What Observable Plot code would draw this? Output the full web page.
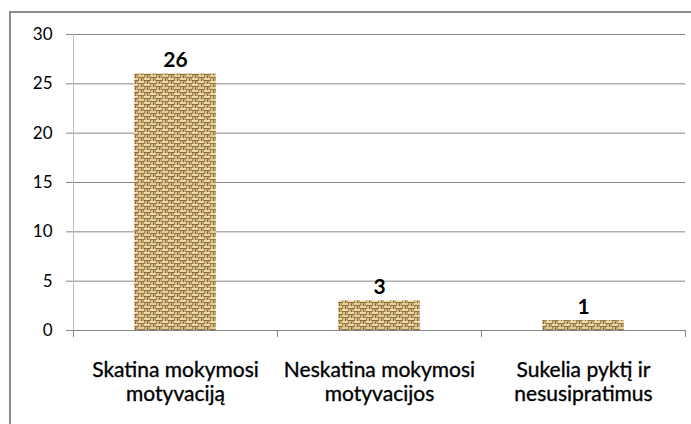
<!DOCTYPE html>
<html>
<head>
<meta charset="utf-8">
<script src="https://cdn.jsdelivr.net/npm/d3@7"></script>
<script src="https://cdn.jsdelivr.net/npm/@observablehq/plot@0.6"></script>
<style>
  html, body { margin: 0; padding: 0; background: #fff; overflow: hidden; }
  #wrap { position: relative; width: 691px; height: 424px; }
  #border { position: absolute; left: 9px; top: 11px; width: 800px; height: 600px;
            border-left: 2px solid #8a8a8a; border-top: 2px solid #8a8a8a; box-sizing: border-box; }
  #chart { position: absolute; left: 0; top: 0; }
</style>
</head>
<body>
<div id="wrap"><div id="border"></div><div id="chart"></div></div>
<script>
const categories = ["Skatina mokymosi\nmotyvaciją", "Neskatina mokymosi\nmotyvacijos", "Sukelia pyktį ir\nnesusipratimus"];
const values = [26, 3, 1];
const yTicks = [0, 5, 10, 15, 20, 25, 30];
const boundaries = [0, 1, 2, 3];

const data = categories.map((c, i) => ({category: c, value: values[i], pos: i}));

const chart = Plot.plot({
  width: 691,
  height: 424,
  marginLeft: 73,
  marginRight: 6,
  marginTop: 34,
  marginBottom: 94,
  x: {type: "linear", domain: [0, categories.length], axis: null},
  y: {domain: [0, 30], axis: null},
  style: {fontFamily: "Lato, 'Open Sans', sans-serif", background: "transparent", color: "#000"},
  marks: [
    Plot.gridY(yTicks, {stroke: "#868686", strokeOpacity: 1}),
    Plot.axisY({ticks: yTicks, label: null, tickSize: 7, tickPadding: 14, stroke: "#868686", fill: "#000", fontSize: 17}),
    Plot.ruleX([0], {stroke: "#bfbfbf"}),
    Plot.axisX({ticks: boundaries, label: null, tickSize: 7, tickFormat: () => "", stroke: "#868686"}),
    Plot.rectY(data, {x1: d => d.pos + 0.3, x2: d => d.pos + 0.7, y: "value", fill: "url(#burlap)"}),
    Plot.text(data, {x: d => d.pos + 0.5, y: "value", text: d => String(d.value), dy: -7, lineAnchor: "bottom", fontWeight: "bold", fontSize: 21, fill: "#000"}),
    Plot.text(data, {x: d => d.pos + 0.5, y: 0, text: "category", lineAnchor: "top", dy: 29, fontSize: 21, lineHeight: 1.15, fill: "#000", stroke: "#000", strokeWidth: 0.35})
  ]
});

// burlap weave pattern (12x12 tile)
const svg = d3.select(chart);
const defs = svg.insert("defs", ":first-child");
const p = defs.append("pattern").attr("id", "burlap").attr("patternUnits", "userSpaceOnUse")
  .attr("width", 12).attr("height", 12);
const r = (x, y, w, h, c) => p.append("rect").attr("x", x).attr("y", y).attr("width", w).attr("height", h).attr("fill", c);
r(0, 0, 12, 12, "#a5854f");
// horizontal light strands
r(0, 0, 6, 2, "#ecdcab"); r(6, 3, 6, 2, "#e3cd98"); r(0, 6, 6, 2, "#e8d6a4"); r(6, 9, 6, 2, "#ecdcab");
// vertical strands
r(7, 0, 2, 3, "#d9c08a"); r(1, 3, 2, 3, "#d4ba82"); r(7, 6, 2, 3, "#dcc48e"); r(1, 9, 2, 3, "#d4ba82");
r(10, 0, 1.5, 3, "#c6a96f"); r(4, 3, 1.5, 3, "#c9ad74"); r(10, 6, 1.5, 3, "#c6a96f"); r(4, 9, 1.5, 3, "#c9ad74");
// darker gaps
r(0, 2, 6, 1, "#8a6b3a"); r(6, 5, 6, 1, "#927341"); r(0, 8, 6, 1, "#8a6b3a"); r(6, 11, 6, 1, "#927341");
r(3.2, 4, 0.8, 2, "#7d6033"); r(9.2, 1, 0.8, 2, "#7d6033"); r(3.2, 10, 0.8, 2, "#7d6033"); r(9.2, 7, 0.8, 2, "#7d6033");

document.getElementById("chart").appendChild(chart);
</script>
</body>
</html>
